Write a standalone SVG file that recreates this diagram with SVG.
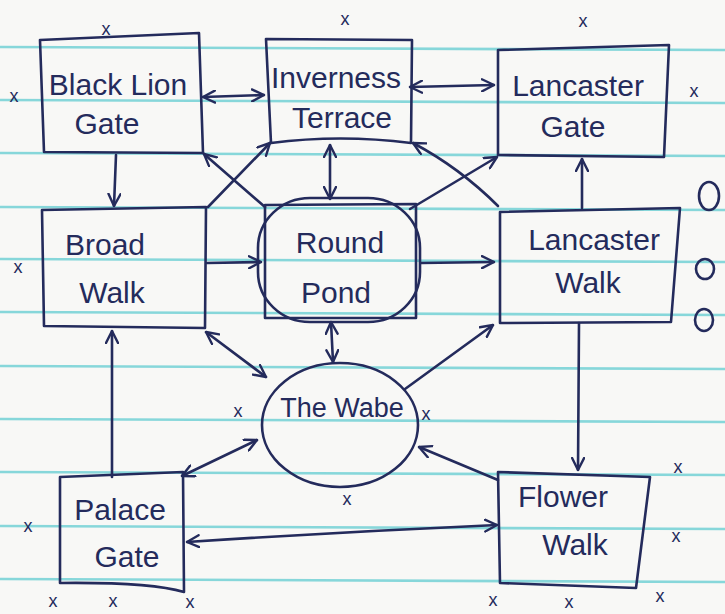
<svg xmlns="http://www.w3.org/2000/svg" width="725" height="614" viewBox="0 0 725 614">
<style>
.ink{fill:none;stroke:#242b5c;stroke-width:2.6;stroke-linecap:round;stroke-linejoin:round}
.rule{stroke:#74d2d6;stroke-width:2.6;opacity:0.85}
.lbl{font-family:"Liberation Sans","DejaVu Sans",sans-serif;font-size:30px;fill:#242b5c;text-anchor:middle}
.mk{font-family:"Liberation Sans","DejaVu Sans",sans-serif;font-size:18px;fill:#242b5c;text-anchor:middle}
.con{fill:none;stroke:#242b5c;stroke-width:2.6;stroke-linecap:round;marker-end:url(#ah)}
.dbl{marker-start:url(#ah)}
</style>
<defs>
<marker id="ah" viewBox="0 0 14 14" refX="13" refY="7" markerWidth="14" markerHeight="14" markerUnits="userSpaceOnUse" orient="auto-start-reverse">
<path d="M1,1 L13,7 L1,13" fill="none" stroke="#242b5c" stroke-width="2.4" stroke-linecap="round" stroke-linejoin="round"/>
</marker>
</defs>
<rect width="725" height="614" fill="#f8f8f6"/>
<g id="paper">
<line class="rule" x1="0" y1="47" x2="725" y2="50"/>
<line class="rule" x1="0" y1="100" x2="725" y2="103"/>
<line class="rule" x1="0" y1="153" x2="725" y2="156"/>
<line class="rule" x1="0" y1="207" x2="725" y2="210"/>
<line class="rule" x1="0" y1="259" x2="725" y2="262"/>
<line class="rule" x1="0" y1="312" x2="725" y2="315"/>
<line class="rule" x1="0" y1="366" x2="725" y2="369"/>
<line class="rule" x1="0" y1="419" x2="725" y2="422"/>
<line class="rule" x1="0" y1="472" x2="725" y2="475"/>
<line class="rule" x1="0" y1="526" x2="725" y2="529"/>
<line class="rule" x1="0" y1="579" x2="725" y2="582"/>
</g>
<g id="marks">
<text class="mk" x="106" y="35">x</text>
<text class="mk" x="345" y="25">x</text>
<text class="mk" x="583" y="27">x</text>
<text class="mk" x="14" y="102">x</text>
<text class="mk" x="694" y="97">x</text>
<text class="mk" x="18" y="273">x</text>
<text class="mk" x="238" y="417">x</text>
<text class="mk" x="426" y="420">x</text>
<text class="mk" x="347" y="505">x</text>
<text class="mk" x="28" y="532">x</text>
<text class="mk" x="678" y="473">x</text>
<text class="mk" x="676" y="542">x</text>
<text class="mk" x="53" y="607">x</text>
<text class="mk" x="113" y="607">x</text>
<text class="mk" x="190" y="608">x</text>
<text class="mk" x="493" y="606">x</text>
<text class="mk" x="569" y="608">x</text>
<text class="mk" x="660" y="602">x</text>
<ellipse class="ink" cx="709" cy="196" rx="10" ry="14"/>
<ellipse class="ink" cx="705" cy="269" rx="9" ry="10"/>
<ellipse class="ink" cx="704" cy="320" rx="9" ry="11"/>
</g>
<g id="connectors">
<path class="con dbl" d="M203,97 L264,95"/>
<path class="con dbl" d="M410,87 L494,85"/>
<path class="con" d="M116,155 L114,206"/>
<path class="con dbl" d="M330,145 L330,199"/>
<path class="con" d="M582,208 L582,159"/>
<path class="con" d="M207,263 L261,262"/>
<path class="con" d="M421,263 L494,262"/>
<path class="con dbl" d="M331,322 L333,362"/>
<path class="con" d="M579,323 L578,470"/>
<path class="con" d="M112,477 L112,331"/>
<path class="con dbl" d="M187,542 Q340,532 497,525"/>
<path class="con dbl" d="M182,476 L257,440"/>
<path class="con" d="M498,480 L419,447"/>
<path class="con" d="M405,389 L493,325"/>
<path class="con dbl" d="M206,332 L266,377"/>
<path class="con" d="M208,207 L270,143"/>
<path class="con" d="M265,207 L204,154"/>
<path class="con" d="M410,209 L497,157"/>
<path class="con" d="M498,206 Q460,168 413,143"/>
</g>
<g id="black-lion-gate">
<path class="ink" d="M40,40 L199,33 L203,153 L44,152 Z"/>
<text class="lbl" x="118" y="95">Black Lion</text>
<text class="lbl" x="107" y="134">Gate</text>
</g>
<g id="inverness-terrace">
<path class="ink" d="M266,39 L412,40 L411,143 Q340,134 271,143 Z"/>
<text class="lbl" x="336" y="88">Inverness</text>
<text class="lbl" x="342" y="128">Terrace</text>
</g>
<g id="lancaster-gate">
<path class="ink" d="M498,50 L669,45 L664,157 L498,155 Z"/>
<text class="lbl" x="578" y="96">Lancaster</text>
<text class="lbl" x="573" y="137">Gate</text>
</g>
<g id="broad-walk">
<path class="ink" d="M42,210 L206,207 L205,328 L44,326 Z"/>
<text class="lbl" x="105" y="255">Broad</text>
<text class="lbl" x="112" y="303">Walk</text>
</g>
<g id="round-pond">
<path class="ink" d="M265,205 L416,204 L416,318 L265,318 Z"/>
<rect class="ink" x="258" y="198" width="162" height="124" rx="52" ry="50"/>
<text class="lbl" x="340" y="253">Round</text>
<text class="lbl" x="336" y="303">Pond</text>
</g>
<g id="lancaster-walk">
<path class="ink" d="M500,212 L680,208 L671,322 L500,323 Z"/>
<text class="lbl" x="594" y="250">Lancaster</text>
<text class="lbl" x="588" y="293">Walk</text>
</g>
<g id="the-wabe">
<ellipse class="ink" cx="340" cy="425" rx="78" ry="62"/>
<text class="lbl" x="342" y="417" style="font-size:27px">The Wabe</text>
</g>
<g id="palace-gate">
<path class="ink" d="M60,477 L183,472 L184,592 Q150,582 60,583 Z"/>
<text class="lbl" x="120" y="520">Palace</text>
<text class="lbl" x="127" y="567">Gate</text>
</g>
<g id="flower-walk">
<path class="ink" d="M498,472 L650,477 L636,588 L500,583 Z"/>
<text class="lbl" x="563" y="507">Flower</text>
<text class="lbl" x="575" y="555">Walk</text>
</g>
</svg>
